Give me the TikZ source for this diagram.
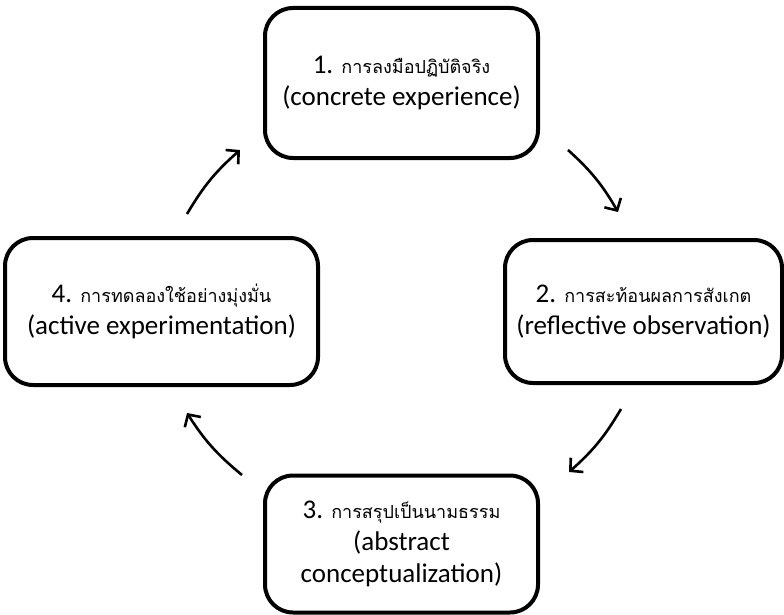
\documentclass[tikz,border=0pt]{standalone}
\usepackage{fontspec}
\setmainfont{Carlito}
\newfontfamily\thaifont[Script=Thai]{Loma}
\usetikzlibrary{arrows.meta}
\tikzset{
  stagebox/.style={draw=black, line width=4pt, rounded corners=28pt, fill=white,
    inner sep=0pt, align=center, font=\fontsize{27}{32}\selectfont},
  cyclearrow/.style={line width=2.6pt, -{Straight Barb[length=9pt,width=19pt,line width=2.6pt]}, bend left=9}
}
\newcommand{\thx}[1]{{\thaifont\fontsize{18}{32}\selectfont #1}}
\begin{document}
\begin{tikzpicture}[x=1pt,y=-1pt]
\useasboundingbox (0,0) rectangle (784,615);
\node[stagebox, minimum width=273pt, minimum height=150pt] (b1) at (401.5,83)
  {1. \thx{การลงมือปฏิบัติจริง}\\(concrete experience)};
\node[stagebox, minimum width=277pt, minimum height=143pt] (b2) at (643.5,311.5)
  {2. \thx{การสะท้อนผลการสังเกต}\\(reflective observation)};
\node[stagebox, minimum width=273pt, minimum height=137pt] (b3) at (401.5,544)
  {3. \thx{การสรุปเป็นนามธรรม}\\(abstract\\conceptualization)};
\node[stagebox, minimum width=313pt, minimum height=147pt] (b4) at (161.5,311.5)
  {4. \thx{การทดลองใช้อย่างมุ่งมั่น}\\(active experimentation)};
\coordinate (a1s) at (187,214); \coordinate (a1e) at (240,150);
\coordinate (a2s) at (568,150); \coordinate (a2e) at (618,212);
\coordinate (a3s) at (621,409); \coordinate (a3e) at (569,472);
\coordinate (a4s) at (242,475); \coordinate (a4e) at (187,413);
\draw[cyclearrow] (a1s) to (a1e);
\draw[cyclearrow] (a2s) to (a2e);
\draw[cyclearrow] (a3s) to (a3e);
\draw[cyclearrow] (a4s) to (a4e);
\end{tikzpicture}
\end{document}
